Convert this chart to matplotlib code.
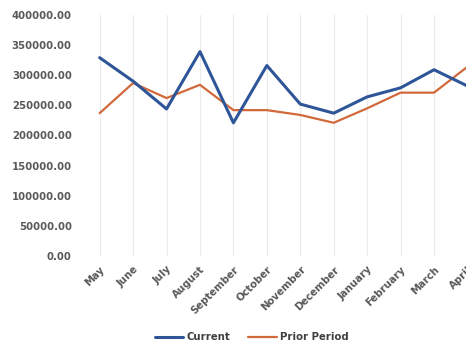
import matplotlib
matplotlib.use("Agg")
import matplotlib.pyplot as plt
import numpy as np

months = ["May", "June", "July", "August", "September", "October", "November",
          "December", "January", "February", "March", "April"]
current = [329000, 290000, 244000, 339000, 221000, 316000, 252000, 237000,
           264000, 279000, 309000, 282000]
prior = [237000, 287000, 262000, 284000, 242000, 242000, 234000, 221000,
         245000, 271000, 271000, 314000]
yticks = [0, 50000, 100000, 150000, 200000, 250000, 300000, 350000, 400000]

plt.rcParams['font.family'] = ['DejaVu Sans']
fig = plt.figure(figsize=(4.66, 3.46), dpi=100)
ax = fig.add_axes([0.178, 0.26, 0.861, 0.697])

x = np.arange(len(months))
ax.plot(x, current, color="#2E5597", lw=2.2, label="Current", solid_capstyle="round", zorder=3)
ax.plot(x, prior, color="#D2693A", lw=1.6, label="Prior Period", solid_capstyle="round", zorder=2)

ax.set_xlim(-0.5, len(months) - 0.5)
ax.set_ylim(0, 400000)
ax.set_yticks(yticks)
ax.set_yticklabels([f"{v:.2f}" for v in yticks], color="#595959", fontsize=7.3, fontweight="bold")
ax.set_xticks(x)
ax.set_xticklabels(months, rotation=45, ha="right", rotation_mode="anchor",
                   color="#595959", fontsize=7.3, fontweight="bold")
ax.tick_params(axis="both", length=0, pad=8)
ax.tick_params(axis="x", pad=6)
for s in ax.spines.values():
    s.set_visible(False)
ax.grid(axis="x", color="#EBEBEB", lw=0.8)
ax.grid(axis="y", visible=False)

leg = fig.legend(loc="center", bbox_to_anchor=(0.54, 0.025), ncol=2, frameon=False,
                 fontsize=7.3, handlelength=2.8, columnspacing=1.8, handletextpad=0.3)
for t in leg.get_texts():
    t.set_color("#404040")
    t.set_fontweight("bold")

fig.savefig("out.png", dpi=100)
